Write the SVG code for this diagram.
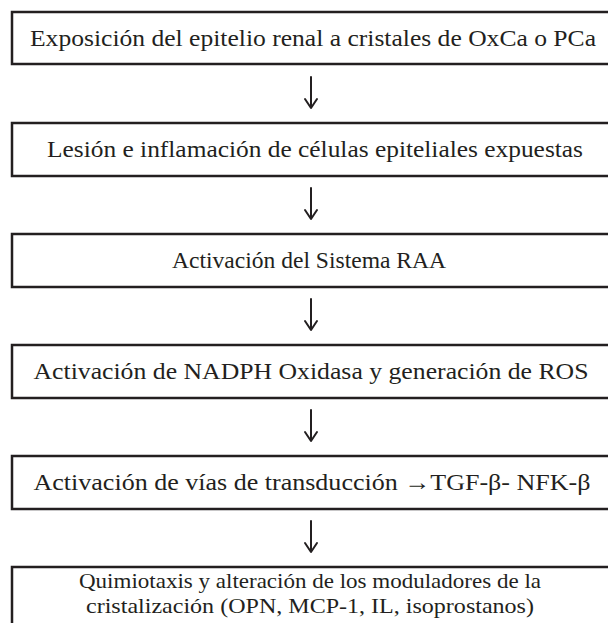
<svg xmlns="http://www.w3.org/2000/svg" width="608" height="623" viewBox="0 0 608 623">
<style>
.box{fill:#fff;stroke:#231f20;stroke-width:2.5}
.t{font-family:"Liberation Serif","Times New Roman",serif;font-size:24px;fill:#231f20;text-anchor:middle}
.t2{font-size:21px}
.arr{fill:none;stroke:#231f20;stroke-width:2;stroke-linecap:round;stroke-linejoin:round}
</style>
<rect width="608" height="623" fill="#fff"/>
<g id="n1"><rect class="box" x="12" y="12" width="600" height="52"/><text class="t" x="313" y="46" textLength="566" lengthAdjust="spacingAndGlyphs">Exposición del epitelio renal a cristales de OxCa o PCa</text></g>
<g id="n2"><rect class="box" x="12" y="123" width="600" height="53"/><text class="t" x="315" y="157" textLength="536" lengthAdjust="spacingAndGlyphs">Lesión e inflamación de células epiteliales expuestas</text></g>
<g id="n3"><rect class="box" x="12" y="234" width="600" height="53"/><text class="t" x="309" y="268" textLength="274" lengthAdjust="spacingAndGlyphs">Activación del Sistema RAA</text></g>
<g id="n4"><rect class="box" x="12" y="345" width="600" height="53"/><text class="t" x="311" y="379" textLength="555" lengthAdjust="spacingAndGlyphs">Activación de NADPH Oxidasa y generación de ROS</text></g>
<g id="n5"><rect class="box" x="12" y="456" width="600" height="53"/><text class="t" x="312" y="490" textLength="557" lengthAdjust="spacingAndGlyphs">Activación de vías de transducción →TGF-β- NFK-β</text></g>
<g id="n6"><rect class="box" x="12" y="567" width="600" height="70"/><text class="t t2" x="310" y="588" textLength="462" lengthAdjust="spacingAndGlyphs">Quimiotaxis y alteración de los moduladores de la</text><text class="t t2" x="310" y="613" textLength="448" lengthAdjust="spacingAndGlyphs">cristalización (OPN, MCP-1, IL, isoprostanos)</text></g>
<g id="connectors">
<path class="arr" d="M311 77V107M305 99L311 108L317 99"/>
<path class="arr" d="M311 188V218M305 210L311 219L317 210"/>
<path class="arr" d="M311 299V329M305 321L311 330L317 321"/>
<path class="arr" d="M311 410V440M305 432L311 441L317 432"/>
<path class="arr" d="M311 521V551M305 543L311 552L317 543"/>
</g>
</svg>
